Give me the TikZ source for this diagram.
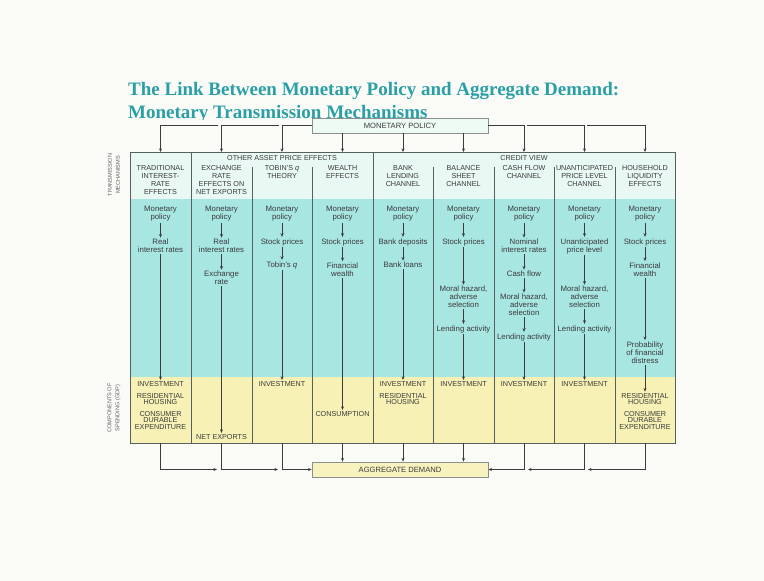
\documentclass[tikz,border=0pt]{standalone}
\usepackage{fontspec}
\setmainfont{Liberation Serif}
\setsansfont{Liberation Sans}
\usetikzlibrary{arrows.meta,calc}
\definecolor{bgc}{HTML}{FAFAF7}
\definecolor{titlec}{HTML}{2A9FA6}
\definecolor{hdrc}{HTML}{E8F8F3}
\definecolor{cyanc}{HTML}{A8E6E2}
\definecolor{yelc}{HTML}{F7F1B6}
\definecolor{framec}{HTML}{56605C}
\definecolor{txtc}{HTML}{3A3A3A}
\definecolor{linec}{HTML}{3C3C3C}
\definecolor{mpfill}{HTML}{EEFBF5}
\definecolor{adfill}{HTML}{F8F2BE}
\tikzset{
  txt/.style={font=\sffamily\fontsize{7.8}{8}\selectfont, align=center, inner sep=1.3pt, text=txtc},
  capt/.style={font=\sffamily\fontsize{7.2}{6.6}\selectfont, align=center, inner sep=1.3pt, text=txtc},
  hdr/.style={font=\sffamily\fontsize{7.2}{8}\selectfont, align=center, inner sep=0pt, text=txtc},
  side/.style={font=\sffamily\fontsize{5.6}{8}\selectfont, align=center, inner sep=0pt, text=txtc!80, rotate=90},
  arr/.style={draw=linec, line width=0.8pt, -{Stealth[length=3.6pt,width=3pt]}},
  link/.style={draw=linec, line width=0.8pt},
  bigbox/.style={draw=framec!70, line width=0.8pt, minimum width=176pt, minimum height=15pt, inner sep=0pt,
     font=\sffamily\fontsize{7.6}{8}\selectfont, text=txtc},
  divider/.style={draw=framec, line width=0.7pt},
  titletxt/.style={font=\bfseries\fontsize{19}{21}\selectfont, text=titlec, inner sep=0pt, anchor=base west}
}
\begin{document}
\begin{tikzpicture}[x=1pt,y=-1pt]
\useasboundingbox (0,0) rectangle (764,581);
\fill[bgc] (0,0) rectangle (764,581);

% title (second line is cut by the figure)
\begin{scope}
\clip (0,0) rectangle (764,119.5);
\node[titletxt] (title1) at (128,95.5) {The Link Between Monetary Policy and Aggregate Demand:};
\node[titletxt] (title2) at (128,118) {Monetary Transmission Mechanisms};
\end{scope}

% table background
\fill[hdrc] (130,152) rectangle (675,199);
\fill[cyanc] (130,199) rectangle (675,377);
\fill[yelc] (130,377) rectangle (675,443);
\draw[divider] (191,152) -- (191,443);
\draw[divider] (373,152) -- (373,443);
\foreach \x in {252,312,433,494,554,615} {\draw[divider] (\x,167) -- (\x,443);}
\draw[framec, line width=0.9pt] (130,152) rectangle (675,443);

% column tops and bottoms
\foreach \i/\x in {1/160.5,2/221.5,3/282,4/342.5,5/403,6/463.5,7/524,8/584.5,9/645} {
  \coordinate (t\i) at (\x,152);
  \coordinate (b\i) at (\x,443);
}

% side labels
\node[side] (sideA) at (114,175) {TRANSMISSION\\MECHANISMS};
\node[side] (sideB) at (114,408) {COMPONENTS OF\\SPENDING (GDP)};

% group headers
\node[hdr] (oape) at (282,158.5) {OTHER ASSET PRICE EFFECTS};
\node[hdr] (cv) at (524,158.5) {CREDIT VIEW};

% column headers
\node[hdr] (h1) at (160.5,180) {TRADITIONAL\\INTEREST-\\RATE\\EFFECTS};
\node[hdr] (h2) at (221.5,180) {EXCHANGE\\RATE\\EFFECTS ON\\NET EXPORTS};
\node[hdr] (h3) at (282,172) {TOBIN'S \textit{q}\\THEORY};
\node[hdr] (h4) at (342.5,172) {WEALTH\\EFFECTS};
\node[hdr] (h5) at (403,176) {BANK\\LENDING\\CHANNEL};
\node[hdr] (h6) at (463.5,176) {BALANCE\\SHEET\\CHANNEL};
\node[hdr] (h7) at (524,172) {CASH FLOW\\CHANNEL};
\node[hdr] (h8) at (584.5,176) {UNANTICIPATED\\PRICE LEVEL\\CHANNEL};
\node[hdr] (h9) at (645,176) {HOUSEHOLD\\LIQUIDITY\\EFFECTS};

% monetary policy row
\foreach \i/\x in {1/160.5,2/221.5,3/282,4/342.5,5/403,6/463.5,7/524,8/584.5,9/645} {
  \node[txt] (mp\i) at (\x,214) {Monetary\\policy};
}

% column 1
\node[txt] (ri1) at (160.5,246) {Real\\interest rates};
% column 2
\node[txt] (ri2) at (221.5,246) {Real\\interest rates};
\node[txt] (er2) at (221.5,278) {Exchange\\rate};
% column 3
\node[txt] (sp3) at (282,242) {Stock prices};
\node[txt] (tq3) at (282,265) {Tobin's \textit{q}};
% column 4
\node[txt] (sp4) at (342.5,242) {Stock prices};
\node[txt] (fw4) at (342.5,269.5) {Financial\\wealth};
% column 5
\node[txt] (bd5) at (403,242) {Bank deposits};
\node[txt] (bl5) at (403,265) {Bank loans};
% column 6
\node[txt] (sp6) at (463.5,242) {Stock prices};
\node[txt] (mh6) at (463.5,297) {Moral hazard,\\adverse\\selection};
\node[txt] (la6) at (463.5,329) {Lending activity};
% column 7
\node[txt] (nir7) at (524,246) {Nominal\\interest rates};
\node[txt] (cf7) at (524,274) {Cash flow};
\node[txt] (mh7) at (524,305) {Moral hazard,\\adverse\\selection};
\node[txt] (la7) at (524,337) {Lending activity};
% column 8
\node[txt] (up8) at (584.5,246) {Unanticipated\\price level};
\node[txt] (mh8) at (584.5,297) {Moral hazard,\\adverse\\selection};
\node[txt] (la8) at (584.5,329) {Lending activity};
% column 9
\node[txt] (sp9) at (645,242) {Stock prices};
\node[txt] (fw9) at (645,269.5) {Financial\\wealth};
\node[txt] (pfd9) at (645,352.5) {Probability\\of financial\\distress};

% components of spending
\node[capt] (inv1) at (160.5,384) {INVESTMENT};
\node[capt] (rh1) at (160.5,399) {RESIDENTIAL\\HOUSING};
\node[capt] (cde1) at (160.5,420.5) {CONSUMER\\DURABLE\\EXPENDITURE};
\node[capt] (ne2) at (221.5,437) {NET EXPORTS};
\node[capt] (inv3) at (282,384) {INVESTMENT};
\node[capt] (con4) at (342.5,414) {CONSUMPTION};
\node[capt] (inv5) at (403,384) {INVESTMENT};
\node[capt] (rh5) at (403,399) {RESIDENTIAL\\HOUSING};
\node[capt] (inv6) at (463.5,384) {INVESTMENT};
\node[capt] (inv7) at (524,384) {INVESTMENT};
\node[capt] (inv8) at (584.5,384) {INVESTMENT};
\node[capt] (rh9) at (645,399) {RESIDENTIAL\\HOUSING};
\node[capt] (cde9) at (645,420.5) {CONSUMER\\DURABLE\\EXPENDITURE};

% chains
\draw[arr] (mp1) -- (ri1); \draw[arr] (ri1) -- (inv1);
\draw[arr] (mp2) -- (ri2); \draw[arr] (ri2) -- (er2); \draw[arr] (er2) -- (ne2);
\draw[arr] (mp3) -- (sp3); \draw[arr] (sp3) -- (tq3); \draw[arr] (tq3) -- (inv3);
\draw[arr] (mp4) -- (sp4); \draw[arr] (sp4) -- (fw4); \draw[arr] (fw4) -- (con4);
\draw[arr] (mp5) -- (bd5); \draw[arr] (bd5) -- (bl5); \draw[arr] (bl5) -- (inv5);
\draw[arr] (mp6) -- (sp6); \draw[arr] (sp6) -- (mh6); \draw[arr] (mh6) -- (la6); \draw[arr] (la6) -- (inv6);
\draw[arr] (mp7) -- (nir7); \draw[arr] (nir7) -- (cf7); \draw[arr] (cf7) -- (mh7); \draw[arr] (mh7) -- (la7); \draw[arr] (la7) -- (inv7);
\draw[arr] (mp8) -- (up8); \draw[arr] (up8) -- (mh8); \draw[arr] (mh8) -- (la8); \draw[arr] (la8) -- (inv8);
\draw[arr] (mp9) -- (sp9); \draw[arr] (sp9) -- (fw9); \draw[arr] (fw9) -- (pfd9); \draw[arr] (pfd9) -- (rh9);

% top box and its arrows
\node[bigbox, fill=mpfill] (mpbox) at (400,125.5) {MONETARY POLICY};
\coordinate (g2) at (279,125.5);
\coordinate (g1) at (218,125.5);
\coordinate (g8) at (527,125.5);
\coordinate (g9) at (587,125.5);
\draw[arr] (mpbox.west) -| (t3);
\draw[arr] (g2) -| (t2);
\draw[arr] (g1) -| (t1);
\draw[arr] (mpbox.south -| t4) -- (t4);
\draw[arr] (mpbox.south -| t5) -- (t5);
\draw[arr] (mpbox.south -| t6) -- (t6);
\draw[arr] (mpbox.east) -| (t7);
\draw[arr] (g8) -| (t8);
\draw[arr] (g9) -| (t9);

% bottom box and its arrows
\node[bigbox, fill=adfill] (adbox) at (400,469.5) {AGGREGATE DEMAND};
\coordinate (e1) at (217,469.5);
\coordinate (e2) at (278,469.5);
\coordinate (e8) at (528,469.5);
\coordinate (e9) at (588,469.5);
\draw[arr] (b1) |- (e1);
\draw[arr] (b2) |- (e2);
\draw[arr] (b3) |- (adbox.west);
\draw[arr] (b4) -- (adbox.north -| b4);
\draw[arr] (b5) -- (adbox.north -| b5);
\draw[arr] (b6) -- (adbox.north -| b6);
\draw[arr] (b7) |- (adbox.east);
\draw[arr] (b8) |- (e8);
\draw[arr] (b9) |- (e9);
\end{tikzpicture}
\end{document}
